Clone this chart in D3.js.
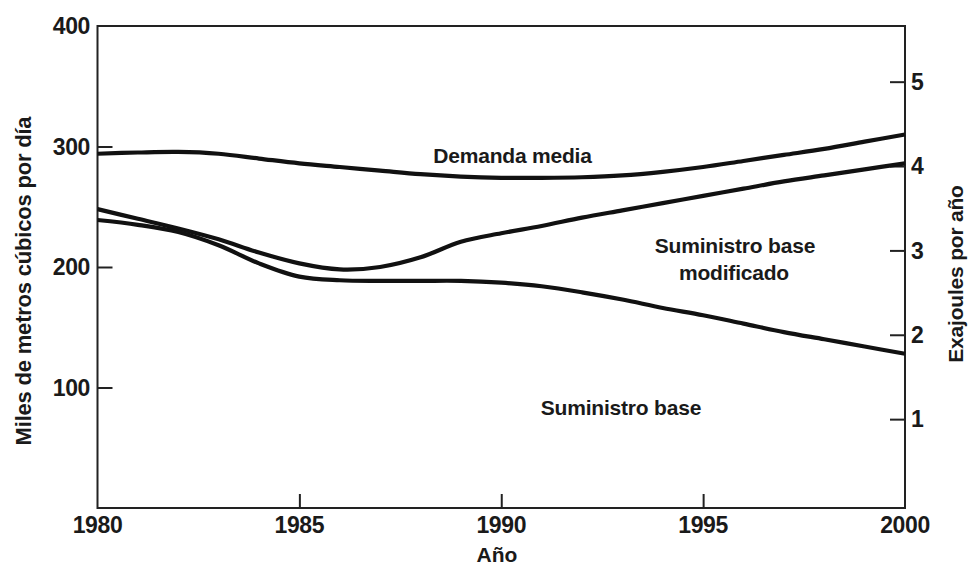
<!DOCTYPE html>
<html>
<head>
<meta charset="utf-8">
<script src="https://cdn.jsdelivr.net/npm/d3@7/dist/d3.min.js"></script>
<style>
  html, body { margin: 0; padding: 0; background: #fff; }
  svg { display: block; }
  text { font-family: "Liberation Sans", Arial, Helvetica, sans-serif; fill: #1a1a1a; }
</style>
</head>
<body>
<svg id="chart" width="977" height="574"></svg>
<script>
// ---- Data ----
const years = [1980,1981,1982,1983,1984,1985,1986,1987,1988,1989,1990,1991,1992,1993,1994,1995,1996,1997,1998,1999,2000];
const demandaMedia = [294,295,295.5,294,290,286,283,280,277,275,274,274,274.5,276,279,283,288,293,298,304,310];
const suministroModificado = [248,240,232,223,212,203,198,200,208,221,228,234,241,247,253,259,265,271,276,281,286];
const suministroBase = [239,235,229,218,203,192,189,188.5,188.5,188.5,187,184,179,173,166,160,153,146,140,134,128];
const xTicks = [1980,1985,1990,1995,2000];
const yLeftTicks = [100,200,300,400];
const yRightTicks = [1,2,3,4,5];
const yRightDomain = [0, 5.66];
const labels = {
  xTitle: "Año",
  yLeftTitle: "Miles de metros cúbicos por día",
  yRightTitle: "Exajoules por año",
  demanda: "Demanda media",
  modificado: ["Suministro base", "modificado"],
  base: "Suministro base"
};

// ---- Layout ----
const svg = d3.select("#chart");
const L = 97.5, R = 905, T = 26, B = 508;

const x = d3.scaleLinear().domain([1980, 2000]).range([L, R]);
const y = d3.scaleLinear().domain([0, 400]).range([B, T]);
const y2 = d3.scaleLinear().domain(yRightDomain).range([B - 4.5, T]);

const ink = "#111";

// Frame
svg.append("rect")
  .attr("x", L).attr("y", T).attr("width", R - L).attr("height", B - T)
  .attr("fill", "none").attr("stroke", "#222").attr("stroke-width", 2);

// Left axis (ticks inward)
const gL = svg.append("g").attr("transform", `translate(${L},0)`);
gL.call(d3.axisRight(y).tickValues(yLeftTicks.filter(d => d < 400)).tickSize(15).tickFormat(""))
  .call(g => g.select(".domain").remove())
  .call(g => g.selectAll("line").attr("stroke", "#222").attr("stroke-width", 2));
svg.append("g").selectAll("text").data(yLeftTicks).join("text")
  .attr("x", 90).attr("y", d => y(d)).attr("dy", "0.36em")
  .attr("text-anchor", "end").attr("font-size", 23).attr("font-weight", "bold")
  .attr("letter-spacing", -0.4)
  .text(d => d);

// Right axis (ticks inward)
const gR = svg.append("g").attr("transform", `translate(${R},0)`);
gR.call(d3.axisLeft(y2).tickValues(yRightTicks).tickSize(15).tickFormat(""))
  .call(g => g.select(".domain").remove())
  .call(g => g.selectAll("line").attr("stroke", "#222").attr("stroke-width", 2));
svg.append("g").selectAll("text").data(yRightTicks).join("text")
  .attr("x", 911).attr("y", d => y2(d)).attr("dy", "0.36em")
  .attr("text-anchor", "start").attr("font-size", 23).attr("font-weight", "bold")
  .text(d => d);

// Bottom axis (ticks inward)
const gB = svg.append("g").attr("transform", `translate(0,${B})`);
gB.call(d3.axisTop(x).tickValues(xTicks.filter(d => d > 1980 && d < 2000)).tickSize(14).tickFormat(""))
  .call(g => g.select(".domain").remove())
  .call(g => g.selectAll("line").attr("stroke", "#222").attr("stroke-width", 2));
svg.append("g").selectAll("text").data(xTicks).join("text")
  .attr("x", d => x(d)).attr("y", 533)
  .attr("text-anchor", "middle").attr("font-size", 23).attr("font-weight", "bold")
  .attr("letter-spacing", -0.4)
  .text(d => d);

// Axis titles
svg.append("text").attr("x", 497).attr("y", 562).attr("text-anchor", "middle")
  .attr("font-size", 21).attr("font-weight", "bold").text(labels.xTitle);
svg.append("text").attr("transform", "translate(31,281) rotate(-90)").attr("text-anchor", "middle")
  .attr("font-size", 22).attr("font-weight", "bold").attr("letter-spacing", -0.2).text(labels.yLeftTitle);
svg.append("text").attr("transform", "translate(963,274) rotate(-90)").attr("text-anchor", "middle")
  .attr("font-size", 21).attr("font-weight", "bold").attr("letter-spacing", -0.2).text(labels.yRightTitle);

// Lines
const line = d3.line().x((d, i) => x(years[i])).y(d => y(d)).curve(d3.curveCatmullRom.alpha(0.5));
[demandaMedia, suministroModificado, suministroBase].forEach(series => {
  svg.append("path").datum(series)
    .attr("d", line)
    .attr("fill", "none").attr("stroke", ink).attr("stroke-width", 4.2)
    .attr("stroke-linecap", "butt").attr("stroke-linejoin", "round");
});

// Annotations
svg.append("text").attr("x", 512.5).attr("y", 162.5).attr("text-anchor", "middle")
  .attr("font-size", 21).attr("font-weight", "bold").attr("letter-spacing", -0.2).text(labels.demanda);
svg.append("text").attr("x", 735).attr("y", 253).attr("text-anchor", "middle")
  .attr("font-size", 21).attr("font-weight", "bold").attr("letter-spacing", -0.2).text(labels.modificado[0]);
svg.append("text").attr("x", 734).attr("y", 280).attr("text-anchor", "middle")
  .attr("font-size", 21).attr("font-weight", "bold").attr("letter-spacing", -0.2).text(labels.modificado[1]);
svg.append("text").attr("x", 621).attr("y", 415).attr("text-anchor", "middle")
  .attr("font-size", 21).attr("font-weight", "bold").attr("letter-spacing", -0.2).text(labels.base);
</script>
</body>
</html>
